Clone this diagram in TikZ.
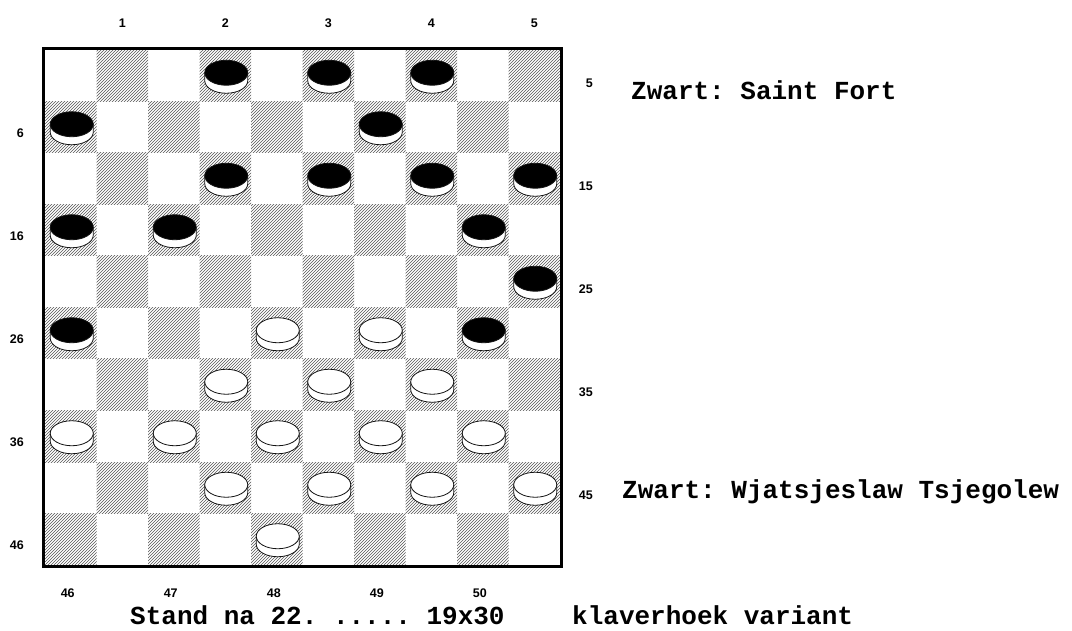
\documentclass[tikz,border=0pt]{standalone}
\usepackage{fontspec}
\setmainfont{Liberation Sans}
\newfontfamily\monobold{Liberation Mono}[BoldFont={Liberation Mono Bold}, WordSpace={1,0,0}]
\usepackage{tikz}
\usetikzlibrary{patterns}
\definecolor{hatchgrey}{RGB}{85,85,85}
\definecolor{rimblack}{RGB}{20,20,20}

% one draughts piece: column, row, colour of the top
\newcommand{\stone}[3]{%
  \pgfmathsetmacro{\cx}{45+51.5*(#1-0.5)+1}%
  \pgfmathsetmacro{\cy}{50+51.5*(#2-0.5)-3}%
  \filldraw[discline, fill=white] (\cx-21.5,\cy) -- (\cx-21.5,\cy+8)
    arc[start angle=180, end angle=0, x radius=21.5, y radius=12.5] -- (\cx+21.5,\cy) -- cycle;
  \filldraw[discline, fill=#3] (\cx,\cy) ellipse[x radius=21.5, y radius=12.5];
}

\begin{document}
\frenchspacing
\begin{tikzpicture}[x=1pt, y=-1pt,
    darksq/.style={pattern=north east lines, pattern color=hatchgrey},
    discline/.style={draw=rimblack, line width=0.8pt},
    sqnum/.style={font=\fontsize{12.5}{14}\bfseries, inner sep=0pt},
    nametext/.style={font=\monobold\fontsize{26}{30}\bfseries, inner sep=0pt}]
    \useasboundingbox (0,0) rectangle (1072,631);

    % hatched squares
    \foreach \r in {1,...,10} {
        \foreach \k in {0,...,4} {
            \pgfmathtruncatemacro{\c}{2*\k+1+mod(\r,2)}
            \fill[darksq] ({45+51.5*(\c-1)},{50+51.5*(\r-1)}) rectangle +(51.5,51.5);
        }
    }
    \draw[line width=3pt] (43.5,48.5) rectangle (561.5,566.5);

    % square numbers round the board
    \foreach \n [count=\k] in {1,...,5}
        \node[sqnum] (top\n) at ({45+51.5*(2*\k-0.5)}, 23) {\n};
    \foreach \n [count=\k] in {6,16,26,36,46}
        \node[sqnum, anchor=east] (left\n) at (24, {133+103*(\k-1)}) {\n};
    \foreach \n [count=\k] in {5,15,25,35,45}
        \node[sqnum, anchor=east] (right\n) at (593, {83+103*(\k-1)}) {\n};
    \foreach \n [count=\k] in {46,...,50}
        \node[sqnum] (bottom\n) at ({45+51.5*(2*\k-1.5)-3}, 593) {\n};

    % pieces
    \foreach \c/\r in {4/1,6/1,8/1,1/2,7/2,4/3,6/3,8/3,10/3,1/4,3/4,9/4,10/5,1/6,9/6}
        \stone{\c}{\r}{black};
    \foreach \c/\r in {5/6,7/6,4/7,6/7,8/7,1/8,3/8,5/8,7/8,9/8,4/9,6/9,8/9,10/9,5/10}
        \stone{\c}{\r}{white};

    \node[nametext, anchor=base west] (blackname) at (631,100) {Zwart: Saint Fort};
    \node[nametext, anchor=base west] (whitename) at (622,498) {Zwart: Wjatsjeslaw Tsjegolew};
    \node[nametext, anchor=base west] (stand) at (130,624) {Stand na 22. ..... 19x30};
    \node[nametext, anchor=base west] (variant) at (572,624) {klaverhoek variant};
\end{tikzpicture}
\end{document}
